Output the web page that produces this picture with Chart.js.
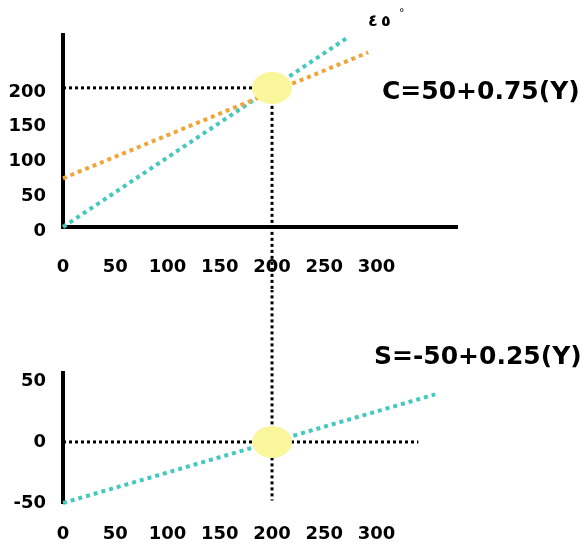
<!DOCTYPE html>
<html>
<head>
<meta charset="utf-8">
<script src="https://cdn.jsdelivr.net/npm/chart.js@4"></script>
<style>
  body { margin: 0; background: #fff; }
  #wrap { position: relative; width: 587px; height: 546px; }
  canvas { position: absolute; left: 0; }
  #topChart { top: 0; }
  #bottomChart { top: 290px; }
</style>
</head>
<body>
<div id="wrap">
  <canvas id="topChart" width="587" height="290"></canvas>
  <canvas id="bottomChart" width="587" height="256"></canvas>
</div>
<script>
// tick labels
const xTicks = [0, 50, 100, 150, 200, 250, 300];
const topYTicks = [0, 50, 100, 150, 200];
const bottomYTicks = [-50, 0, 50];

// 45 degree line (Y = C)
const lineX = [0, 274];
const lineY = [0, 274];
// consumption C = 50 + 0.75(Y), as drawn
const consX = [0, 292];
const consY = [70, 251];
// saving S = -50 + 0.25(Y)
const savX = [0, 356];
const savY = [-50, 39];
// equilibrium
const eqIncome = 200;
const eqCons = 200;
const eqSave = 0;

const cyan = '#45c8bd';
const orange = '#f0a43a';
const tickFont = { family: 'DejaVu Sans', size: 18, weight: 'bold' };

function pts(xs, ys) {
  return xs.map((x, i) => ({ x: x, y: ys[i] }));
}

// pale yellow ellipse used as the equilibrium marker
const blob = document.createElement('canvas');
blob.width = 40; blob.height = 32;
const bctx = blob.getContext('2d');
bctx.fillStyle = '#faf69c';
bctx.beginPath();
bctx.ellipse(20, 16, 20, 16, 0, 0, Math.PI * 2);
bctx.fill();

function guide(data) {
  return {
    data: data, showLine: true, pointRadius: 0, borderColor: '#000',
    borderWidth: 3, borderDash: [3, 3], clip: false
  };
}
function dotted(data, color) {
  return {
    data: data, showLine: true, pointRadius: 0, borderColor: color,
    borderWidth: 4, borderDash: [4, 4], clip: false
  };
}

const textPlugin = {
  id: 'texts',
  afterDraw(chart, args, opts) {
    const c = chart.ctx;
    c.save();
    c.fillStyle = '#000';
    c.textBaseline = 'middle';
    opts.items.forEach(t => {
      c.font = t.font;
      c.fillText(t.text, t.x, t.y);
    });
    c.restore();
  }
};

function xScale(pad, border) {
  return {
    type: 'linear', min: 0, max: 377,
    grid: { display: false, drawTicks: false },
    border: { display: border, color: '#000', width: 4 },
    ticks: { font: tickFont, color: '#000', padding: pad },
    afterBuildTicks: s => { s.ticks = xTicks.map(v => ({ value: v })); },
  };
}

new Chart(document.getElementById('topChart'), {
  type: 'scatter',
  data: {
    datasets: [
      { data: [{ x: eqIncome, y: eqCons }], pointStyle: blob, pointRadius: 18, clip: false },
      guide([{ x: 0, y: eqCons }, { x: eqIncome, y: eqCons }]),
      guide([{ x: eqIncome, y: eqCons }, { x: eqIncome, y: -95 }]),
      dotted(pts(consX, consY), orange),
      dotted(pts(lineX, lineY), cyan)
    ]
  },
  options: {
    responsive: false,
    animation: false,
    layout: { padding: { top: 35, right: 130, left: 0, bottom: 0 } },
    plugins: {
      legend: { display: false },
      tooltip: { enabled: false },
      texts: {
        items: [
          { text: 'C=50+0.75(Y)', x: 382, y: 92, font: 'bold 25px "DejaVu Sans"' },
          // 45° drawn glyph by glyph so the digits keep left-to-right order
          { text: '٤', x: 368, y: 22, font: 'bold 16px "DejaVu Sans"' },
          { text: '٥', x: 381, y: 22, font: 'bold 16px "DejaVu Sans"' },
          { text: '°', x: 399, y: 13, font: '11px "DejaVu Sans"' }
        ]
      }
    },
    scales: {
      x: Object.assign(xScale(30, true), { afterFit: s => { s.height = 63; } }),
      y: {
        min: 0, max: 276,
        grid: { display: false, drawTicks: false },
        border: { display: true, color: '#000', width: 4 },
        ticks: { font: tickFont, color: '#000', padding: 17, labelOffset: 4 },
        afterBuildTicks: s => { s.ticks = topYTicks.map(v => ({ value: v })); },
        afterFit: s => { s.width = 63; }
      }
    }
  },
  plugins: [textPlugin]
});

new Chart(document.getElementById('bottomChart'), {
  type: 'scatter',
  data: {
    datasets: [
      { data: [{ x: eqIncome, y: eqSave }], pointStyle: blob, pointRadius: 18, clip: false },
      guide([{ x: 0, y: eqSave }, { x: 340, y: eqSave }]),
      guide([{ x: eqIncome, y: 125 }, { x: eqIncome, y: -48 }]),
      dotted(pts(savX, savY), cyan)
    ]
  },
  options: {
    responsive: false,
    animation: false,
    layout: { padding: { top: 83, right: 130, left: 0, bottom: 0 } },
    plugins: {
      legend: { display: false },
      tooltip: { enabled: false },
      texts: {
        items: [
          { text: 'S=-50+0.25(Y)', x: 374, y: 67, font: 'bold 25px "DejaVu Sans"' }
        ]
      }
    },
    scales: {
      x: Object.assign(xScale(21, false), { afterFit: s => { s.height = 43; } }),
      y: {
        min: -50, max: 56.5,
        grid: { display: false, drawTicks: false },
        border: { display: true, color: '#000', width: 4 },
        ticks: { font: tickFont, color: '#000', padding: 17 },
        afterBuildTicks: s => { s.ticks = bottomYTicks.map(v => ({ value: v })); },
        afterFit: s => { s.width = 63; }
      }
    }
  },
  plugins: [textPlugin]
});
</script>
</body>
</html>
